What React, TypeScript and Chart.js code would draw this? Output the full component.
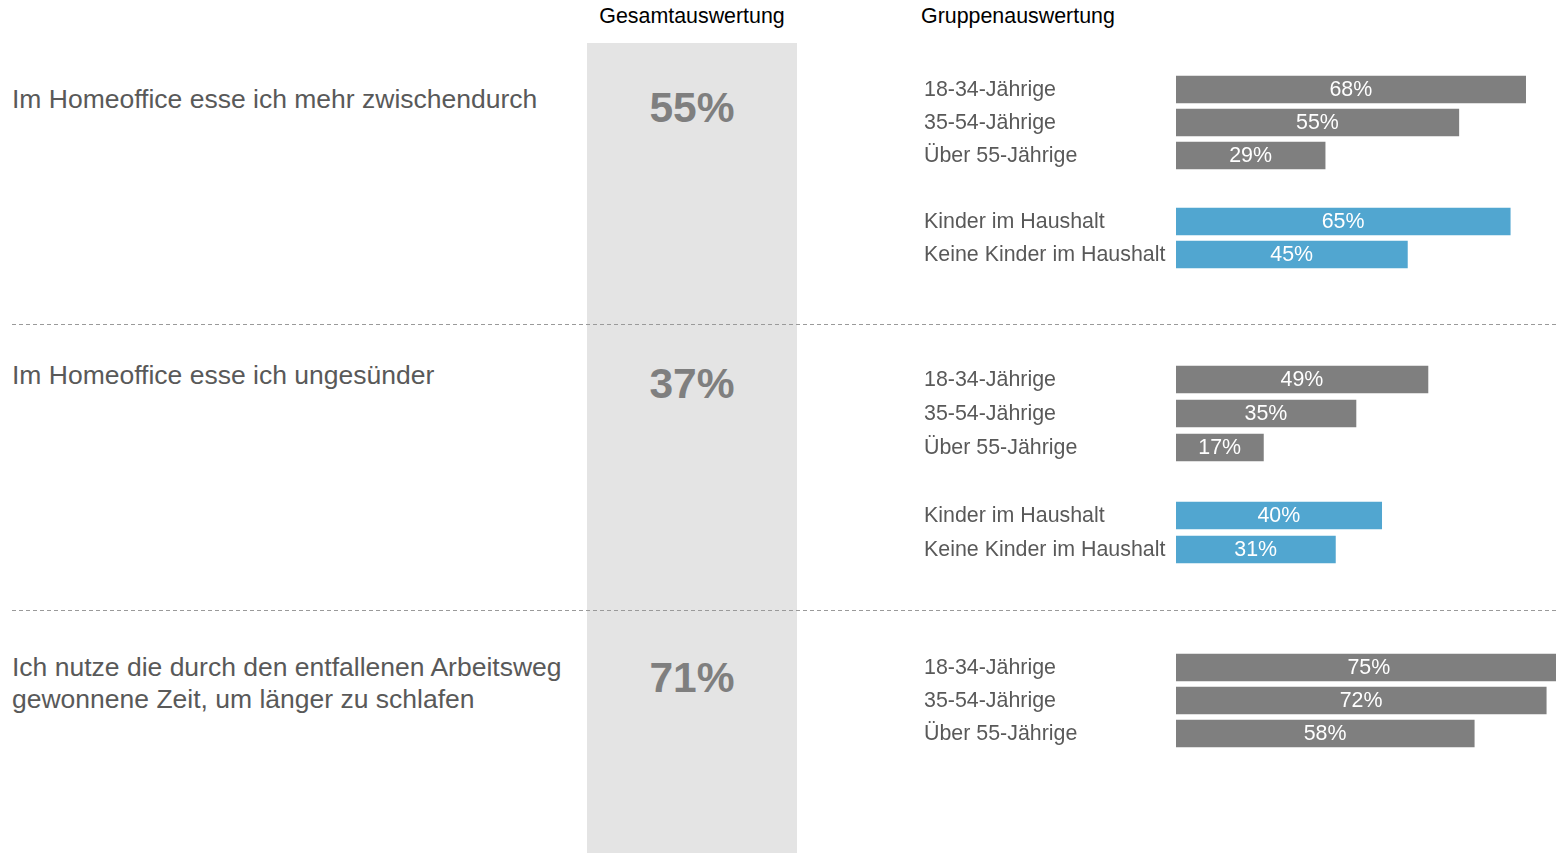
import React, { useEffect, useRef } from "react";
import { Chart, registerables } from "chart.js";

Chart.register(...registerables);

const FONT = "'Liberation Sans', Arial, Helvetica, sans-serif";

// ---- data ----
const columnHeaders = ["Gesamtauswertung", "Gruppenauswertung"];
const statements = [
  ["Im Homeoffice esse ich mehr zwischendurch"],
  ["Im Homeoffice esse ich ungesünder"],
  ["Ich nutze die durch den entfallenen Arbeitsweg", "gewonnene Zeit, um länger zu schlafen"],
];
const totalValues = [55, 37, 71];

const groupLabelsFull = ["18-34-Jährige", "35-54-Jährige", "Über 55-Jährige", "", "Kinder im Haushalt", "Keine Kinder im Haushalt"];
const groupLabelsAge = ["18-34-Jährige", "35-54-Jährige", "Über 55-Jährige"];
const groupKindFull = ["age", "age", "age", "", "kids", "kids"];
const groupKindAge = ["age", "age", "age"];

const snackValues = [68, 55, 29, null, 65, 45];
const unhealthyValues = [49, 35, 17, null, 40, 31];
const sleepValues = [75, 72, 58];

// ---- styles / layout ----
const KIND_COLORS: Record<string, string> = { age: "#7f7f7f", kids: "#51a6d0" };
const X_MAX = 73.9;
const W = 1556;
const H = 853;

const sectionLayout = [
  { top: 73, rowH: 33, statementTop: 83, totalTop: 84 },
  { top: 362.5, rowH: 34, statementTop: 359, totalTop: 360 },
  { top: 651, rowH: 33, statementTop: 651, totalTop: 654 },
];
const sectionData = [
  { labels: groupLabelsFull, kinds: groupKindFull, values: snackValues },
  { labels: groupLabelsFull, kinds: groupKindFull, values: unhealthyValues },
  { labels: groupLabelsAge, kinds: groupKindAge, values: sleepValues },
];
const dividerYs = [324.5, 610.5];

function SectionChart({ labels, kinds, values, top, rowH }: any) {
  const ref = useRef<HTMLCanvasElement>(null);
  useEffect(() => {
    const h = labels.length * rowH;
    const labelPlugin = {
      id: "rowLabels",
      afterDatasetsDraw(chart: any) {
        const { ctx } = chart;
        const xs = chart.scales.x;
        const ys = chart.scales.y;
        ctx.save();
        ctx.font = `21.4px ${FONT}`;
        ctx.textBaseline = "middle";
        labels.forEach((lab: string, i: number) => {
          const py = ys.getPixelForValue(i) + 1;
          if (lab) {
            ctx.fillStyle = "#595959";
            ctx.textAlign = "left";
            ctx.fillText(lab, 924, py);
          }
          const v = values[i];
          if (v != null) {
            ctx.fillStyle = "#ffffff";
            ctx.textAlign = "center";
            ctx.fillText(`${v}%`, xs.getPixelForValue(v / 2), py);
          }
        });
        ctx.restore();
      },
    };
    const chart = new Chart(ref.current as HTMLCanvasElement, {
      type: "bar",
      data: {
        labels,
        datasets: [
          {
            data: values,
            backgroundColor: kinds.map((k: string) => KIND_COLORS[k] ?? "transparent"),
            barThickness: 27,
            borderWidth: 0,
          },
        ],
      },
      options: {
        indexAxis: "y",
        animation: false,
        responsive: false,
        devicePixelRatio: 1,
        layout: { padding: { left: 1176, right: 0, top, bottom: H - top - h } },
        scales: {
          x: { display: false, min: 0, max: X_MAX },
          y: { display: false },
        },
        plugins: { legend: { display: false }, tooltip: { enabled: false } },
      },
      plugins: [labelPlugin],
    } as any);
    return () => chart.destroy();
  }, []);
  return <canvas ref={ref} width={W} height={H} style={{ position: "absolute", left: 0, top: 0, width: W, height: H }} />;
}

export default function App() {
  return (
    <div style={{ position: "absolute", left: 0, top: 0, width: W, height: H, overflow: "hidden", background: "#fff", fontFamily: FONT }}>
      <div style={{ position: "absolute", left: 587, top: 43, width: 210, height: H - 43, background: "#e4e4e4" }} />
      <svg width={W} height={H} style={{ position: "absolute", left: 0, top: 0 }}>
        {dividerYs.map((y) => (
          <line key={y} x1={12} x2={W} y1={y} y2={y} stroke="#9a9a9a" strokeWidth={1} strokeDasharray="4 3" />
        ))}
      </svg>
      <div style={{ position: "absolute", left: 587, width: 210, top: 4, lineHeight: "24px", fontSize: 21.4, color: "#000", textAlign: "center", whiteSpace: "nowrap" }}>
        {columnHeaders[0]}
      </div>
      <div style={{ position: "absolute", left: 921, top: 4, lineHeight: "24px", fontSize: 21.4, color: "#000", whiteSpace: "nowrap" }}>
        {columnHeaders[1]}
      </div>
      {statements.map((lines, i) => (
        <div key={i} style={{ position: "absolute", left: 12, top: sectionLayout[i].statementTop, lineHeight: "32px", fontSize: 26.5, color: "#595959", whiteSpace: "nowrap" }}>
          {lines.map((l, j) => (
            <div key={j}>{l}</div>
          ))}
        </div>
      ))}
      {totalValues.map((v, i) => (
        <div key={i} style={{ position: "absolute", left: 587, width: 210, top: sectionLayout[i].totalTop, lineHeight: "48px", fontSize: 42.5, fontWeight: "bold", color: "#7f7f7f", textAlign: "center" }}>
          {v}%
        </div>
      ))}
      {sectionData.map((s, i) => (
        <SectionChart key={i} labels={s.labels} kinds={s.kinds} values={s.values} top={sectionLayout[i].top} rowH={sectionLayout[i].rowH} />
      ))}
    </div>
  );
}
